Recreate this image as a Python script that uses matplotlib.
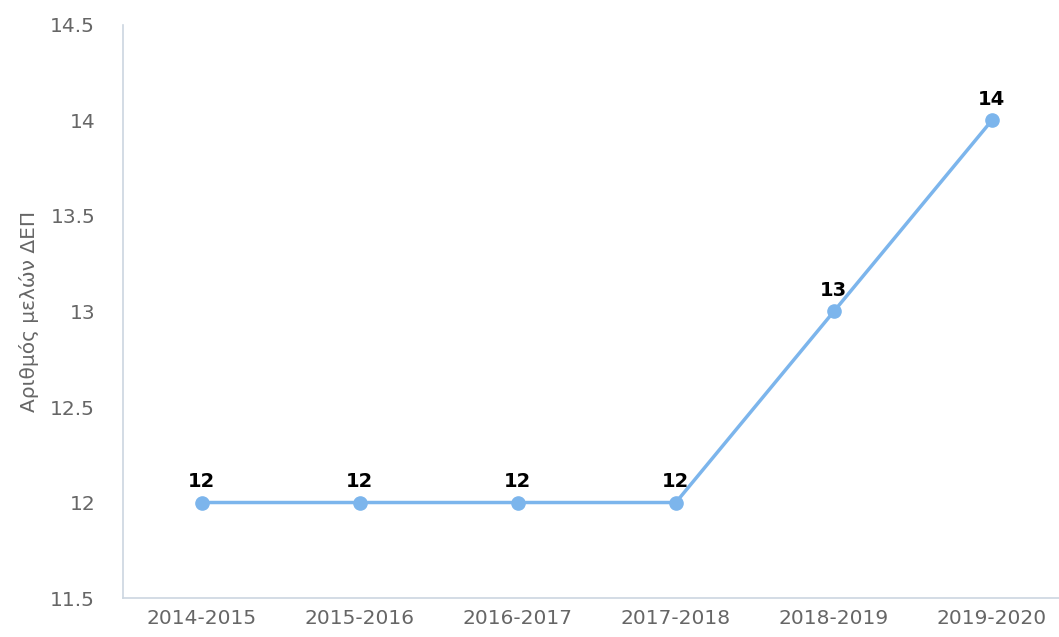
import matplotlib.pyplot as plt

# data
years = ["2014-2015", "2015-2016", "2016-2017", "2017-2018", "2018-2019", "2019-2020"]
members = [12, 12, 12, 12, 13, 14]
y_ticks = [11.5, 12, 12.5, 13, 13.5, 14, 14.5]
y_labels = ["11.5", "12", "12.5", "13", "13.5", "14", "14.5"]

line_col = "#7cb5ec"
grey = "#666666"
spine_col = "#ccd6e0"

fig = plt.figure(figsize=(10.59, 6.37), dpi=100)
ax = fig.add_axes([0.1161, 0.0612, 0.895, 0.8996])

x = range(len(years))
ax.plot(x, members, color=line_col, lw=2.5, marker="o", ms=9.5, zorder=3, clip_on=False)
for i, v in zip(x, members):
    ax.annotate(str(v), (i, v), xytext=(0, 8), textcoords="offset points",
                ha="center", va="bottom", fontsize=14, fontweight="bold", color="black")

ax.set_xlim(-0.5, len(years) - 0.5)
ax.set_ylim(11.5, 14.5)
ax.set_xticks(list(x))
ax.set_xticklabels(years)
ax.set_yticks(y_ticks)
ax.set_yticklabels(y_labels)
ax.tick_params(length=0, labelsize=14.5, colors=grey)
ax.tick_params(axis="x", pad=8)
ax.tick_params(axis="y", pad=20)
ax.set_ylabel("Αριθμός μελών ΔΕΠ", fontsize=14.5, color=grey, labelpad=8)

for s in ["top", "right"]:
    ax.spines[s].set_visible(False)
for s in ["left", "bottom"]:
    ax.spines[s].set_color(spine_col)
    ax.spines[s].set_linewidth(1.2)

fig.savefig("out.png", dpi=100)
